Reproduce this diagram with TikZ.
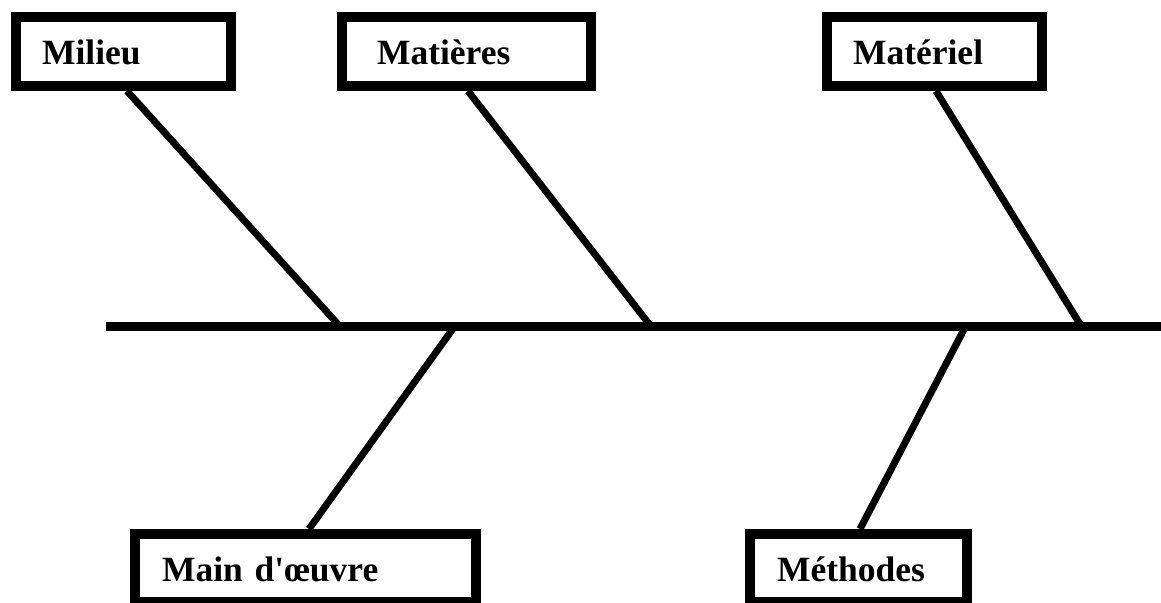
\documentclass[tikz,border=0pt]{standalone}
\usepackage{fontspec}
\setmainfont{Liberation Serif}[Ligatures=TeXOff]
\begin{document}
\begin{tikzpicture}[x=1pt,y=-1pt,
  cat/.style={draw=black, line width=10pt, rectangle, inner xsep=0pt, inner ysep=0pt,
    align=left, text height=27pt, text depth=0pt,
    font=\fontsize{35.5}{40}\selectfont\bfseries},
  bone/.style={line width=7pt},
  spine/.style={line width=9pt}]
\useasboundingbox (0,0) rectangle (1161,602);
% category boxes
\node[cat, minimum width=215pt, minimum height=69pt, text width=215pt] (milieu) at (123.5,51.5) {\hspace*{26pt}Milieu};
\node[cat, minimum width=249pt, minimum height=69pt, text width=249pt] (matieres) at (466.5,51.5) {\hspace*{35pt}Matières};
\node[cat, minimum width=215pt, minimum height=69pt, text width=215pt] (materiel) at (934.5,51.5) {\hspace*{26pt}Matériel};
\node[cat, minimum width=341pt, minimum height=68pt, text width=341pt] (main) at (305.5,568) {\hspace*{27pt}Main d'œuvre};
\node[cat, minimum width=217pt, minimum height=68pt, text width=217pt] (methodes) at (858.5,568) {\hspace*{27pt}Méthodes};
% spine
\coordinate (s0) at (106,326.5);
\coordinate (s1) at (1161,326.5);
\draw[spine] (s0) -- (s1);
% junctions on spine
\coordinate (j1) at (340,326.5);
\coordinate (j2) at (651,326.5);
\coordinate (j3) at (1081.5,326.5);
\coordinate (j4) at (454.5,326.5);
\coordinate (j5) at (965.5,326.5);
% bones
\draw[bone] ([xshift=3.5pt]milieu.south) -- (j1);
\draw[bone] ([xshift=1.5pt]matieres.south) -- (j2);
\draw[bone] ([xshift=1.5pt]materiel.south) -- (j3);
\draw[bone] ([xshift=3.5pt]main.north) -- (j4);
\draw[bone] ([xshift=1.5pt]methodes.north) -- (j5);
\end{tikzpicture}
\end{document}
